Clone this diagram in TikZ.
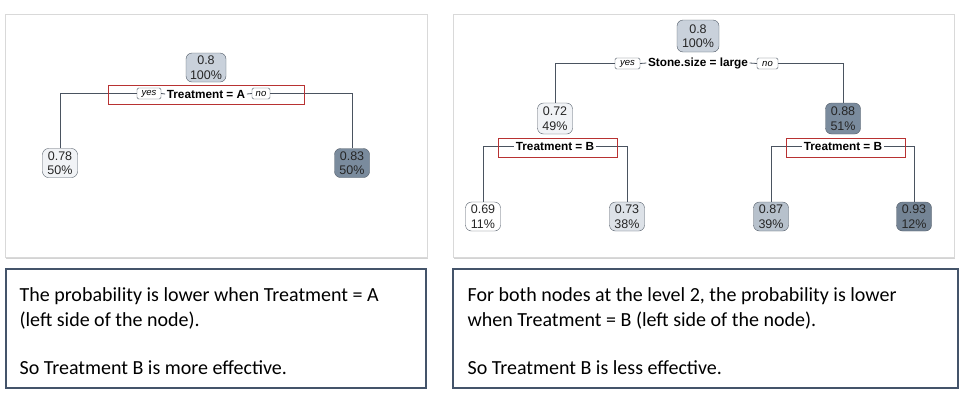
\documentclass[tikz,border=0pt]{standalone}
\usepackage{fontspec}
\setmainfont{Carlito}
\newfontfamily\treefont{Liberation Sans}
\usetikzlibrary{shadows}
\definecolor{edgegray}{HTML}{4A5360}
\definecolor{nodeline}{HTML}{505A66}
\definecolor{redline}{HTML}{B83232}
\definecolor{noteline}{HTML}{44546A}
\definecolor{rootfill}{HTML}{C9D1DB}
\definecolor{palefill}{HTML}{F1F3F6}
\definecolor{lightfill}{HTML}{DDE2E8}
\definecolor{midfill}{HTML}{B7C1CC}
\definecolor{darkfill}{HTML}{7A8B9D}

\begin{document}
\begin{tikzpicture}[x=1pt,y=-1pt,
    panel/.style={draw=gray!30,line width=1pt,fill=white,
      drop shadow={opacity=0.35,shadow xshift=1pt,shadow yshift=-1.5pt}},
    tnode/.style={draw=nodeline,rounded corners=6pt,align=center,inner sep=0pt,
      text=black!85,font=\treefont\fontsize{12.5}{14.5}\selectfont,minimum width=35pt,minimum height=29pt},
    split/.style={font=\treefont\bfseries\fontsize{11.8}{13}\selectfont,inner sep=1.5pt},
    tag/.style={draw=nodeline,rounded corners=1.5pt,fill=white,inner sep=0pt,
      font=\treefont\itshape\fontsize{9.5}{10}\selectfont,minimum height=11pt},
    redbox/.style={draw=redline,line width=1pt,inner sep=0pt},
    note/.style={draw=noteline,line width=1.2pt,fill=white},
    edge/.style={edgegray,line width=0.8pt}]
  \useasboundingbox (0,0) rectangle (969,400);

  % panels
  \draw[panel] (5,14) rectangle (427,257);
  \draw[panel] (453,14) rectangle (954,257);

  % left tree: one split
  \node[tnode,fill=rootfill,minimum width=40pt] (rootA) at (206,67.5) {0.8\\100\%};
  \node[split] (splitA) at (206,94) {Treatment = A};
  \node[tag,minimum width=24pt] (yesA) at (149,93.5) {yes};
  \node[tag,minimum width=18pt] (noA) at (261,93.5) {no};
  \node[tnode,fill=palefill] (leafAl) at (60,163) {0.78\\50\%};
  \node[tnode,fill=darkfill] (leafAr) at (352,163) {0.83\\50\%};
  \draw[edge] (leafAl.north) |- (yesA.west);
  \draw[edge] (yesA.east) -- (splitA.west);
  \draw[edge] (splitA.east) -- (noA.west);
  \draw[edge] (noA.east) -| (leafAr.north);
  \node[redbox,minimum width=196pt,minimum height=19pt] (markA) at (206,94.5) {};

  % right tree: two levels
  \node[tnode,fill=rootfill,minimum width=42pt,minimum height=32pt] (rootS) at (698,36) {0.8\\100\%};
  \node[split] (splitS) at (698,63) {Stone.size = large};
  \node[tag,minimum width=25pt] (yesS) at (627.5,63.5) {yes};
  \node[tag,minimum width=21pt] (noS) at (767.5,63.5) {no};
  \node[tnode,fill=palefill,minimum height=31pt] (large) at (555,118.5) {0.72\\49\%};
  \node[tnode,fill=darkfill,minimum height=31pt] (small) at (843,118.5) {0.88\\51\%};
  \draw[edge] (large.north) |- (yesS.west);
  \draw[edge] (yesS.east) -- (splitS.west);
  \draw[edge] (splitS.east) -- (noS.west);
  \draw[edge] (noS.east) -| (small.north);

  \node[split] (splitL) at (555,146) {Treatment = B};
  \node[split] (splitR) at (843,146) {Treatment = B};
  \node[tnode,fill=white] (leafLl) at (483,216.5) {0.69\\11\%};
  \node[tnode,fill=lightfill] (leafLr) at (627,216.5) {0.73\\38\%};
  \node[tnode,fill=midfill] (leafRl) at (771,216.5) {0.87\\39\%};
  \node[tnode,fill=darkfill!95!black] (leafRr) at (914,216.5) {0.93\\12\%};
  \draw[edge] (leafLl.north) |- (splitL.west);
  \draw[edge] (splitL.east) -| (leafLr.north);
  \draw[edge] (leafRl.north) |- (splitR.west);
  \draw[edge] (splitR.east) -| (leafRr.north);
  \node[redbox,minimum width=119pt,minimum height=19pt] (markL) at (557.5,147.5) {};
  \node[redbox,minimum width=119pt,minimum height=19pt] (markR) at (845.5,147.5) {};

  % notes
  \node[note,minimum width=420pt,minimum height=119pt] (noteA) at (216,328.5) {};
  \node[note,minimum width=505pt,minimum height=119pt] (noteB) at (705.5,328.5) {};
  \node[anchor=north west,inner sep=0pt,align=left,font=\fontsize{20}{25}\selectfont]
    (textA) at ([shift={(14,19)}]noteA.north west)
    {The probability is lower when Treatment = A\\(left side of the node).\\[23pt]So Treatment B is more effective.};
  \node[anchor=north west,inner sep=0pt,align=left,font=\fontsize{20}{25}\selectfont]
    (textB) at ([shift={(15,19)}]noteB.north west)
    {For both nodes at the level 2, the probability is lower\\when Treatment = B (left side of the node).\\[23pt]So Treatment B is less effective.};
\end{tikzpicture}
\end{document}
